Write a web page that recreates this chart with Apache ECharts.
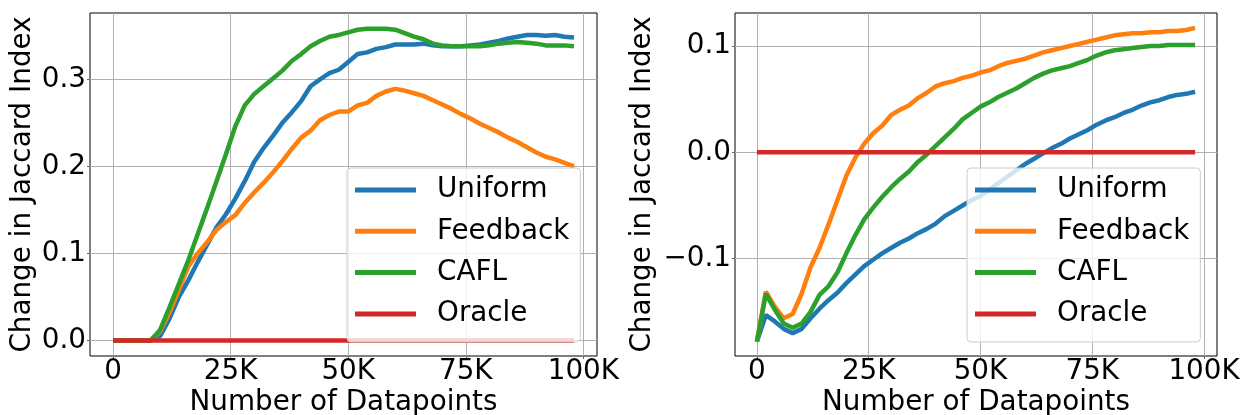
<!DOCTYPE html>
<html><head><meta charset="utf-8">
<script src="https://cdn.jsdelivr.net/npm/echarts@6/dist/echarts.min.js"></script>
<style>html,body{margin:0;padding:0;background:#fff}#c{width:1243px;height:415px}</style>
</head><body><div id="c"></div>
<script>
// Number of datapoints (x positions of samples)
const datapoints = [0,2000,4000,6000,8000,10000,12000,14000,16000,18000,20000,22000,24000,26000,28000,30000,32000,34000,36000,38000,40000,42000,44000,46000,48000,50000,52000,54000,56000,58000,60000,62000,64000,66000,68000,70000,72000,74000,76000,78000,80000,82000,84000,86000,88000,90000,92000,94000,96000,98000];

const seriesNames = ['Uniform', 'Feedback', 'CAFL', 'Oracle'];

// Left panel
const leftUniform = [0,0,0,0,0,0.005,0.025,0.05,0.069,0.09,0.11,0.13,0.145,0.163,0.183,0.205,0.221,0.235,0.25,0.262,0.275,0.292,0.3,0.307,0.311,0.32,0.329,0.331,0.335,0.337,0.34,0.34,0.34,0.341,0.339,0.338,0.338,0.338,0.339,0.34,0.342,0.344,0.347,0.349,0.351,0.351,0.35,0.351,0.349,0.348];
const leftFeedback = [0,0,0,0,0,0.01,0.032,0.058,0.085,0.1,0.113,0.127,0.136,0.144,0.158,0.17,0.181,0.193,0.206,0.22,0.233,0.241,0.253,0.259,0.263,0.263,0.27,0.273,0.281,0.286,0.289,0.287,0.284,0.281,0.276,0.271,0.266,0.26,0.255,0.249,0.244,0.239,0.233,0.228,0.222,0.216,0.211,0.208,0.204,0.2];
const leftCAFL = [0,0,0,0,0,0.012,0.038,0.065,0.092,0.122,0.152,0.183,0.214,0.246,0.27,0.283,0.292,0.301,0.31,0.321,0.329,0.338,0.344,0.349,0.351,0.354,0.357,0.358,0.358,0.358,0.357,0.353,0.349,0.346,0.341,0.339,0.338,0.338,0.338,0.338,0.339,0.341,0.342,0.343,0.342,0.341,0.339,0.339,0.339,0.338];
const leftOracle = [0,0,0,0,0,0,0,0,0,0,0,0,0,0,0,0,0,0,0,0,0,0,0,0,0,0,0,0,0,0,0,0,0,0,0,0,0,0,0,0,0,0,0,0,0,0,0,0,0,0];

// Right panel
const rightUniform = [-0.178,-0.153,-0.159,-0.166,-0.17,-0.166,-0.156,-0.147,-0.139,-0.132,-0.123,-0.115,-0.107,-0.101,-0.095,-0.09,-0.085,-0.081,-0.076,-0.072,-0.067,-0.06,-0.055,-0.05,-0.045,-0.041,-0.035,-0.029,-0.023,-0.017,-0.011,-0.006,-0.001,0.004,0.008,0.013,0.017,0.021,0.026,0.03,0.033,0.037,0.04,0.044,0.047,0.049,0.052,0.054,0.055,0.057];
const rightFeedback = [-0.178,-0.131,-0.145,-0.156,-0.152,-0.133,-0.108,-0.09,-0.068,-0.045,-0.022,-0.005,0.008,0.018,0.025,0.035,0.04,0.044,0.051,0.056,0.062,0.065,0.067,0.07,0.072,0.075,0.077,0.081,0.084,0.086,0.088,0.091,0.094,0.096,0.098,0.1,0.102,0.104,0.106,0.108,0.11,0.111,0.112,0.112,0.113,0.113,0.114,0.114,0.115,0.117];
const rightCAFL = [-0.178,-0.133,-0.148,-0.161,-0.165,-0.161,-0.15,-0.134,-0.126,-0.113,-0.095,-0.078,-0.063,-0.052,-0.042,-0.033,-0.025,-0.018,-0.009,-0.002,0.006,0.014,0.022,0.031,0.037,0.043,0.047,0.052,0.056,0.06,0.065,0.07,0.074,0.077,0.079,0.081,0.084,0.087,0.091,0.094,0.096,0.097,0.098,0.099,0.1,0.1,0.101,0.101,0.101,0.101];
const rightOracle = [0,0,0,0,0,0,0,0,0,0,0,0,0,0,0,0,0,0,0,0,0,0,0,0,0,0,0,0,0,0,0,0,0,0,0,0,0,0,0,0,0,0,0,0,0,0,0,0,0,0];

// Tick labels
const xTicks = [0, 25000, 50000, 75000, 100000];
const xTickLabels = ['0', '25K', '50K', '75K', '100K'];
const leftYTicks = [0, 0.1, 0.2, 0.3];
const leftYTickLabels = ['0.0', '0.1', '0.2', '0.3'];
const rightYTicks = [-0.1, 0, 0.1];
const rightYTickLabels = ['\u22120.1', '0.0', '0.1'];

const xAxisTitle = 'Number of Datapoints';
const yAxisTitle = 'Change in Jaccard Index';

const colors = ['#1f77b4', '#ff7f0e', '#2ca02c', '#d62728'];
const FONT = 'DejaVu Sans';
const FS = 27.8;

function labelFor(ticks, labels) {
  return function (v) {
    for (let i = 0; i < ticks.length; i++) if (Math.abs(ticks[i] - v) < 1e-9) return labels[i];
    return '';
  };
}

function makeX(gridIndex) {
  return {
    type: 'value', gridIndex: gridIndex, min: -4900, max: 102900,
    axisLine: { show: false, onZero: false },
    axisTick: { show: true, length: 3, customValues: xTicks, lineStyle: { color: '#666', width: 1 } },
    axisLabel: { customValues: xTicks, formatter: labelFor(xTicks, xTickLabels), margin: 2,
      fontFamily: FONT, fontSize: FS, color: '#000', lineHeight: 28, hideOverlap: false },
    splitLine: { show: true, lineStyle: { color: '#b0b0b0', width: 1 } },
    name: xAxisTitle, nameLocation: 'middle', nameGap: 33, nameMoveOverlap: false,
    nameTextStyle: { fontFamily: FONT, fontSize: FS, color: '#000', lineHeight: 28 }
  };
}
function makeY(gridIndex, min, max, ticks, labels, gap) {
  return {
    type: 'value', gridIndex: gridIndex, min: min, max: max,
    axisLine: { show: false, onZero: false },
    axisTick: { show: true, length: 3, customValues: ticks, lineStyle: { color: '#666', width: 1 } },
    axisLabel: { customValues: ticks, formatter: labelFor(ticks, labels), margin: 4,
      fontFamily: FONT, fontSize: FS, color: '#000', hideOverlap: false },
    splitLine: { show: true, lineStyle: { color: '#b0b0b0', width: 1 } },
    name: yAxisTitle, nameLocation: 'middle', nameGap: gap, nameMoveOverlap: false,
    nameTextStyle: { fontFamily: FONT, fontSize: FS, color: '#000', lineHeight: 28 }
  };
}
function makeLegend(left) {
  return {
    orient: 'vertical', left: left, top: 168,
    padding: [8, 11, 14, 8], itemGap: 13.3,
    itemWidth: 61, itemHeight: 5, icon: 'rect',
    data: seriesNames,
    textStyle: { fontFamily: FONT, fontSize: FS, color: '#000', lineHeight: 28, padding: [0, 0, 0, 16] },
    backgroundColor: 'rgba(255,255,255,0.8)', borderColor: '#cccccc', borderWidth: 1, borderRadius: 4
  };
}
function makeSeries(name, values, idx, color) {
  return {
    type: 'line', name: name, xAxisIndex: idx, yAxisIndex: idx,
    data: datapoints.map((x, i) => [x, values[i]]),
    symbol: 'none', showSymbol: false, smooth: false,
    lineStyle: { width: 4.5, color: color }, itemStyle: { color: color },
    emphasis: { disabled: true }, animation: false
  };
}

const chart = echarts.init(document.getElementById('c'), null, { renderer: 'canvas' });
chart.setOption({
  animation: false,
  backgroundColor: '#fff',
  grid: [
    { left: 90, top: 13, width: 507, height: 343, show: true, borderColor: '#000', borderWidth: 1, backgroundColor: 'transparent', containLabel: false, outerBoundsMode: 'none' },
    { left: 735, top: 13, width: 482, height: 343, show: true, borderColor: '#000', borderWidth: 1, backgroundColor: 'transparent', containLabel: false, outerBoundsMode: 'none' }
  ],
  xAxis: [makeX(0), makeX(1)],
  yAxis: [
    makeY(0, -0.0179, 0.3762, leftYTicks, leftYTickLabels, 53),
    makeY(1, -0.1915, 0.131, rightYTicks, rightYTickLabels, 78)
  ],
  legend: [makeLegend(347), makeLegend(967)],
  series: [
    makeSeries('Uniform', leftUniform, 0, colors[0]),
    makeSeries('Feedback', leftFeedback, 0, colors[1]),
    makeSeries('CAFL', leftCAFL, 0, colors[2]),
    makeSeries('Oracle', leftOracle, 0, colors[3]),
    makeSeries('Uniform', rightUniform, 1, colors[0]),
    makeSeries('Feedback', rightFeedback, 1, colors[1]),
    makeSeries('CAFL', rightCAFL, 1, colors[2]),
    makeSeries('Oracle', rightOracle, 1, colors[3])
  ]
});
</script>
</body></html>
